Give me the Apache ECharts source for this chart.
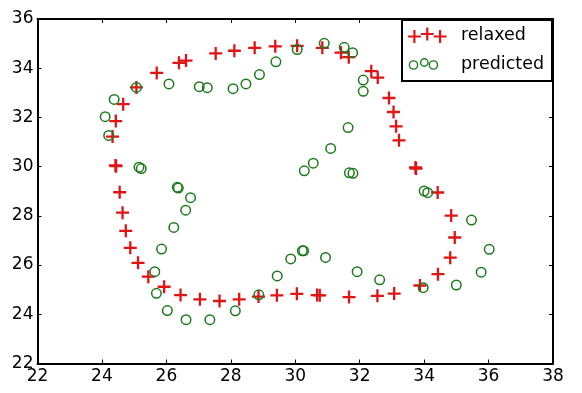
<!DOCTYPE html>
<html>
<head>
<meta charset="utf-8">
<script src="https://cdn.jsdelivr.net/npm/echarts@6/dist/echarts.min.js"></script>
<style>
html,body{margin:0;padding:0;background:#fff;}
#chart{width:582px;height:393px;}
</style>
</head>
<body>
<div id="chart"></div>
<script>
// ---- data ----
var relaxedX = [25.07,25.70,26.39,26.61,27.53,28.11,28.74,29.38,30.06,30.84,31.42,31.66,32.36,32.56,32.91,33.05,33.13,33.22,33.73,33.75,34.42,34.84,34.95,34.81,34.43,33.87,33.07,32.55,31.67,30.76,30.68,30.05,29.43,28.86,28.26,27.65,27.04,26.44,25.93,25.44,25.12,24.88,24.74,24.64,24.55,24.42,24.44,24.33,24.43,24.66];
var relaxedY = [33.22,33.81,34.22,34.31,34.60,34.71,34.83,34.89,34.91,34.83,34.63,34.45,33.88,33.62,32.79,32.22,31.64,31.07,29.97,29.92,28.95,28.01,27.12,26.30,25.63,25.17,24.84,24.75,24.70,24.77,24.78,24.83,24.77,24.72,24.61,24.54,24.61,24.78,25.12,25.53,26.09,26.70,27.39,28.13,28.96,30.05,30.02,31.22,31.85,32.54];
var predictedX = [25.07,24.38,24.10,24.21,25.15,25.22,26.08,27.02,27.27,28.07,28.47,28.89,29.40,30.06,30.90,31.52,31.78,32.11,32.11,31.64,31.10,30.56,30.28,31.68,31.79,34.00,34.11,35.47,36.02,35.77,35.00,33.97,32.62,31.92,30.94,30.22,30.26,29.86,29.44,28.87,28.14,27.35,26.61,26.03,25.69,25.64,25.85,26.23,26.60,26.75,26.34,26.37];
var predictedY = [33.22,32.73,32.03,31.27,29.98,29.92,33.36,33.25,33.21,33.17,33.36,33.74,34.26,34.76,35.01,34.85,34.63,33.52,33.06,31.59,30.74,30.14,29.83,29.75,29.73,29.01,28.94,27.83,26.64,25.71,25.19,25.08,25.40,25.73,26.31,26.58,26.58,26.25,25.56,24.79,24.14,23.78,23.78,24.15,24.85,25.73,26.65,27.53,28.23,28.74,29.16,29.13];
var seriesNames = ['relaxed', 'predicted'];
var xTickMin = 22, xTickMax = 38, xTickStep = 2;
var yTickMin = 22, yTickMax = 36, yTickStep = 2;

// ---- marker shapes ----
function plus(cx, cy, r, t) {
  var h = t / 2;
  return 'M' + (cx - r) + ',' + (cy - h) + 'H' + (cx - h) + 'V' + (cy - r) + 'H' + (cx + h) +
    'V' + (cy - h) + 'H' + (cx + r) + 'V' + (cy + h) + 'H' + (cx + h) + 'V' + (cy + r) +
    'H' + (cx - h) + 'V' + (cy + h) + 'H' + (cx - r) + 'Z';
}
function ring(cx, cy, r, t) {
  var ri = r - t;
  return 'M' + (cx - r) + ',' + cy + 'A' + r + ',' + r + ' 0 1,1 ' + (cx + r) + ',' + cy +
    'A' + r + ',' + r + ' 0 1,1 ' + (cx - r) + ',' + cy + 'Z' +
    'M' + (cx - ri) + ',' + cy + 'A' + ri + ',' + ri + ' 0 1,0 ' + (cx + ri) + ',' + cy +
    'A' + ri + ',' + ri + ' 0 1,0 ' + (cx - ri) + ',' + cy + 'Z';
}
function frame(w, h) { return 'M0,0L0,0ZM' + w + ',' + h + 'L' + w + ',' + h + 'Z'; }

var plusSymbol = 'path://' + plus(6.5, 6.5, 6.5, 2.3);
var ringSymbol = 'path://' + ring(5.5, 5.5, 5.5, 1.5);
var relaxedIcon = 'path://' + frame(40, 16) + plus(6, 9, 6.5, 2.2) + plus(19, 6.5, 6.5, 2.2) + plus(32, 9, 6.5, 2.2);
var predictedIcon = 'path://' + frame(40, 16) + ring(5.5, 8.5, 4.8, 1.4) + ring(16.3, 6, 4.4, 1.4) + ring(25.4, 8.5, 4.8, 1.4);

function pairs(xs, ys) { return xs.map(function (x, i) { return [x, ys[i]]; }); }

var red = '#e01414';
var green = '#1c7a1c';
var font = 'DejaVu Sans';

var hiddenAxisCommon = {
  axisLine: { show: true, onZero: false, lineStyle: { color: '#000', width: 2 } },
  axisTick: { show: true, inside: true, length: 4, lineStyle: { color: '#000', width: 1 } },
  axisLabel: { show: false },
  splitLine: { show: false }
};

var chart = echarts.init(document.getElementById('chart'), null, { renderer: 'canvas' });
chart.setOption({
  animation: false,
  backgroundColor: '#fff',
  grid: { left: 37.5, right: 29, top: 19, bottom: 29.5, containLabel: false },
  xAxis: [
    {
      type: 'value', min: xTickMin, max: xTickMax, interval: xTickStep, position: 'bottom',
      axisLine: { show: true, onZero: false, lineStyle: { color: '#000', width: 2 } },
      axisTick: { show: true, inside: true, length: 4, lineStyle: { color: '#000', width: 1 } },
      axisLabel: { color: '#000', fontFamily: font, fontSize: 17, margin: 5 },
      splitLine: { show: false }
    },
    Object.assign({ type: 'value', min: xTickMin, max: xTickMax, interval: xTickStep, position: 'top' }, hiddenAxisCommon)
  ],
  yAxis: [
    {
      type: 'value', min: yTickMin, max: yTickMax, interval: yTickStep, position: 'left',
      axisLine: { show: true, onZero: false, lineStyle: { color: '#000', width: 2 } },
      axisTick: { show: true, inside: true, length: 4, lineStyle: { color: '#000', width: 1 } },
      axisLabel: { color: '#000', fontFamily: font, fontSize: 17, margin: 4 },
      splitLine: { show: false }
    },
    Object.assign({ type: 'value', min: yTickMin, max: yTickMax, interval: yTickStep, position: 'right' }, hiddenAxisCommon)
  ],
  legend: {
    orient: 'vertical',
    left: 402,
    top: 20,
    padding: [6.5, 8, 7.5, 6],
    itemGap: 11,
    itemWidth: 40,
    itemHeight: 16,
    backgroundColor: '#fff',
    borderColor: '#000',
    borderWidth: 2,
    borderRadius: 0,
    textStyle: { color: '#000', fontFamily: font, fontSize: 17.5, padding: [0, 0, 0, 8] },
    data: [
      { name: seriesNames[0], icon: relaxedIcon },
      { name: seriesNames[1], icon: predictedIcon }
    ]
  },
  series: [
    {
      name: seriesNames[0], type: 'scatter', xAxisIndex: 0, yAxisIndex: 0,
      symbol: plusSymbol, symbolSize: 13,
      itemStyle: { color: red, opacity: 1 },
      data: pairs(relaxedX, relaxedY)
    },
    {
      name: seriesNames[1], type: 'scatter', xAxisIndex: 0, yAxisIndex: 0,
      symbol: ringSymbol, symbolSize: 11,
      itemStyle: { color: green, opacity: 1 },
      data: pairs(predictedX, predictedY)
    }
  ]
});
</script>
</body>
</html>
